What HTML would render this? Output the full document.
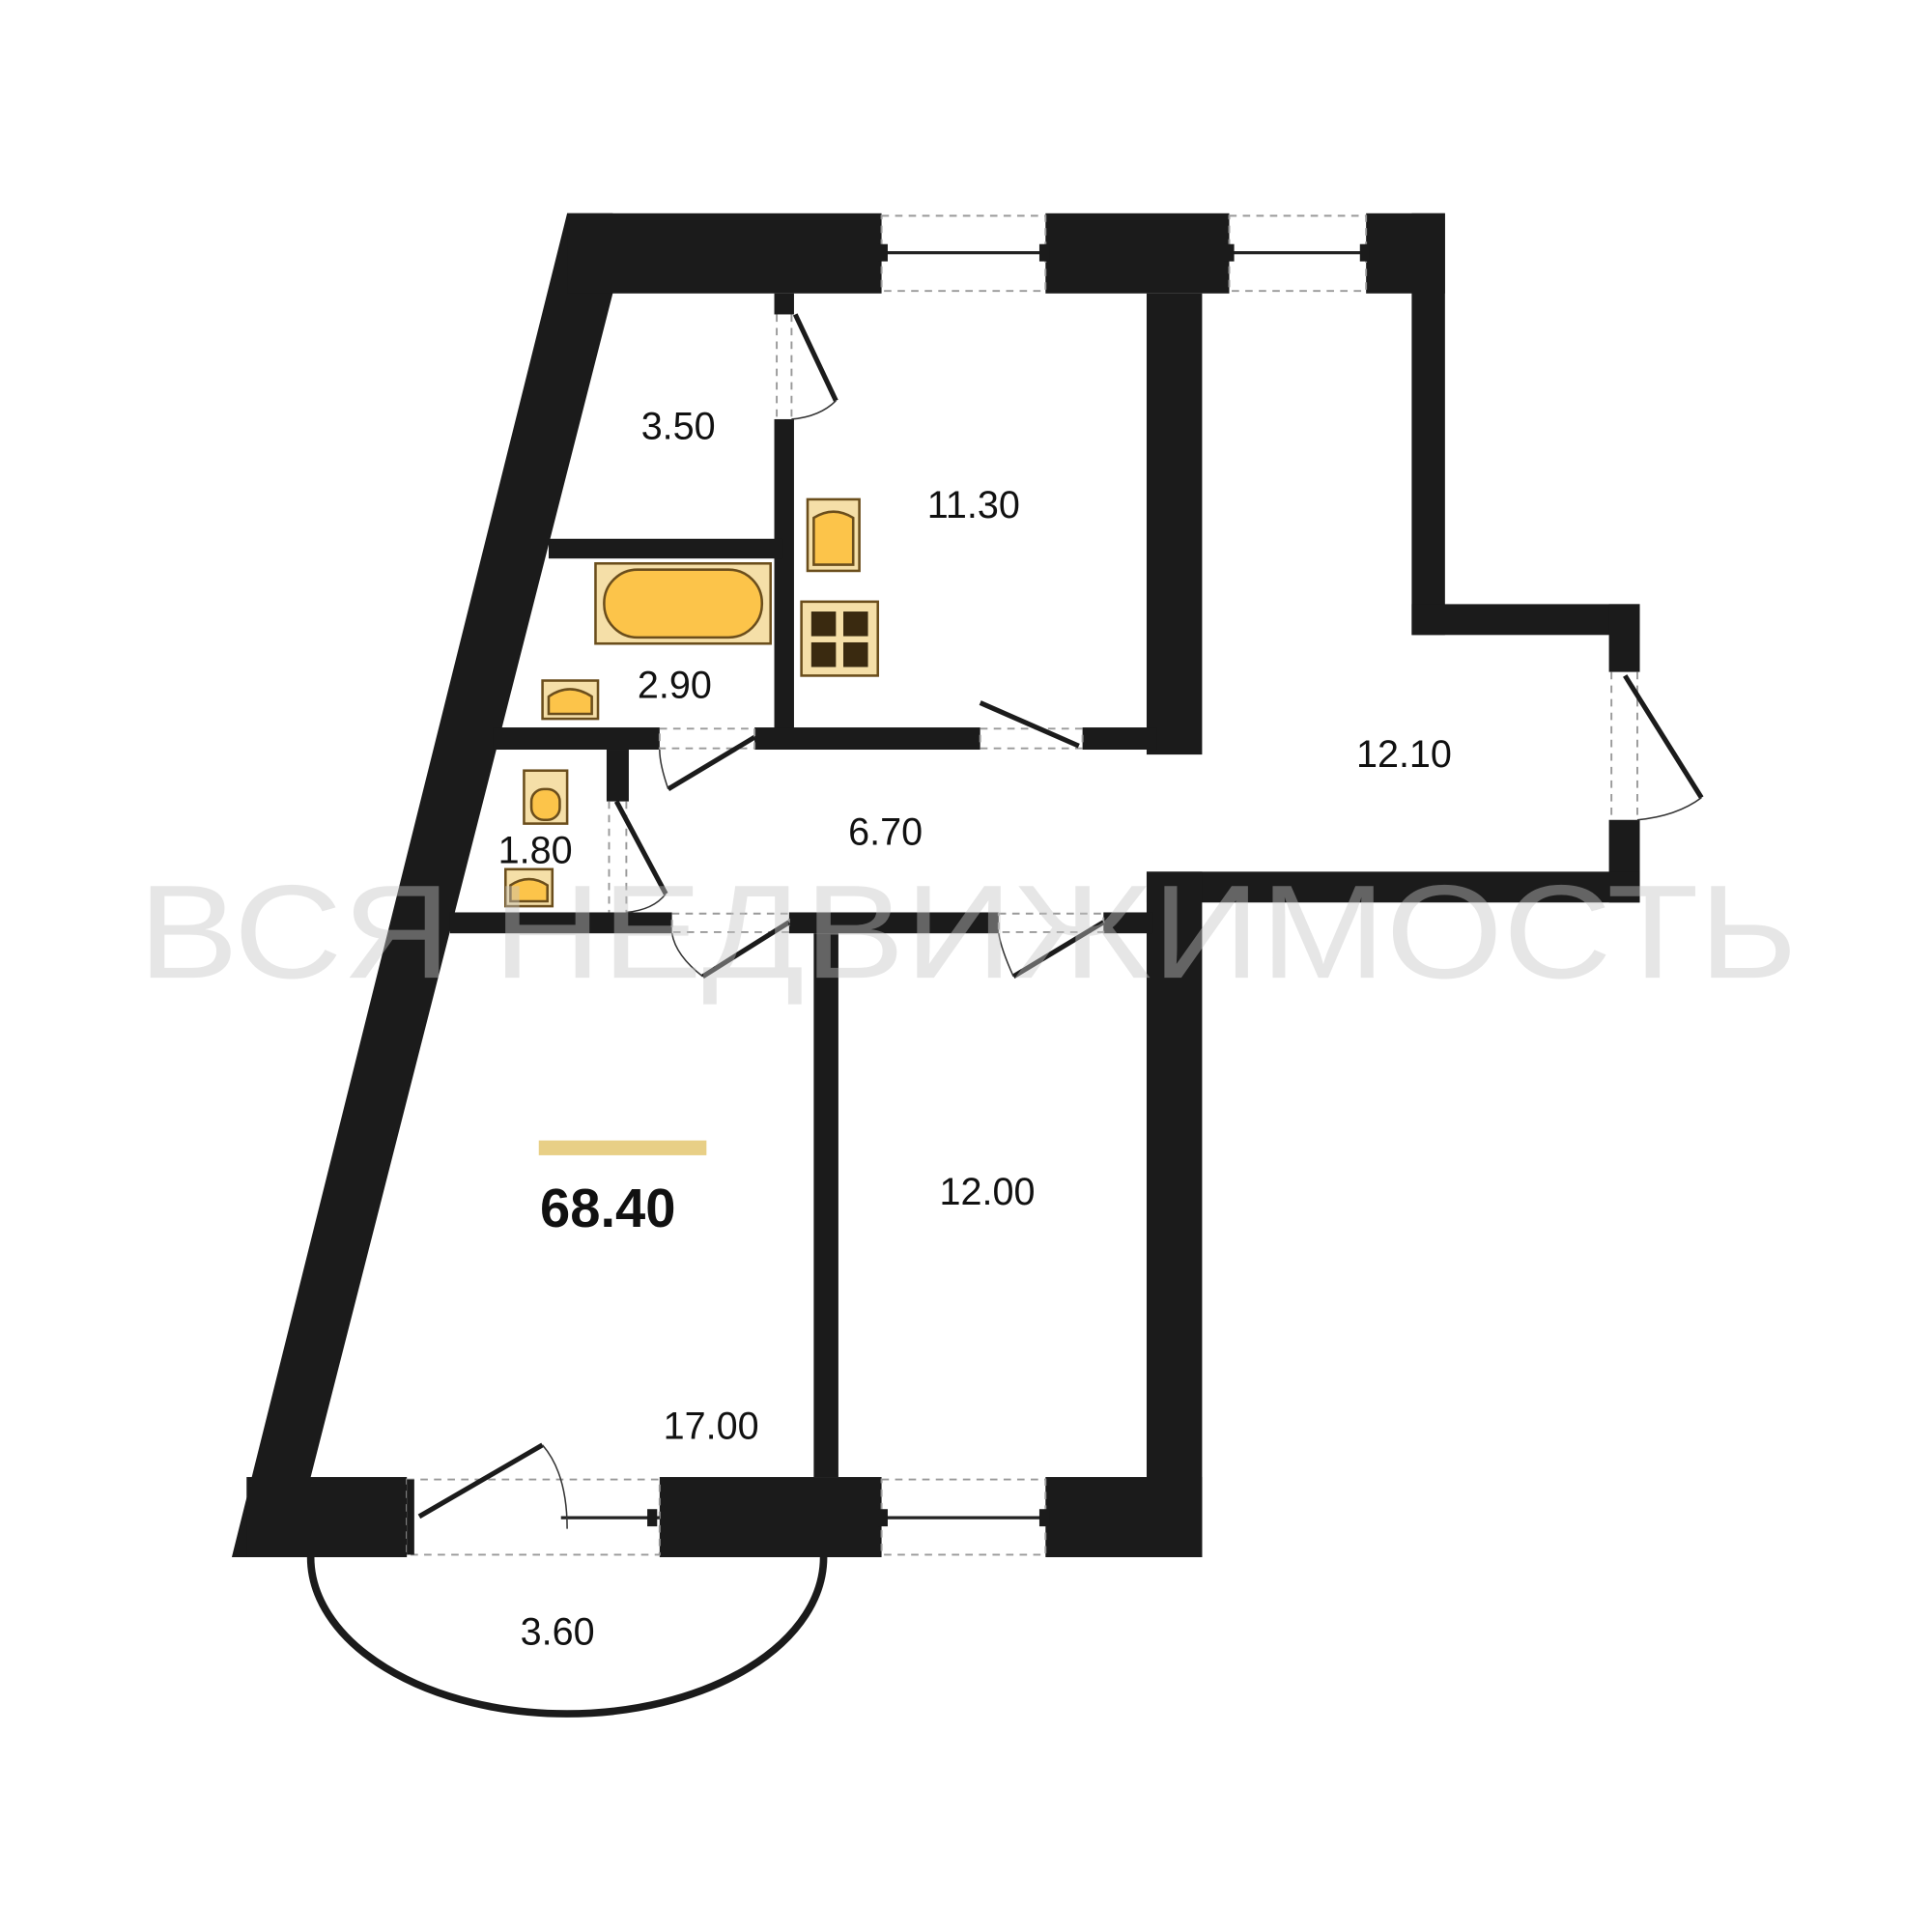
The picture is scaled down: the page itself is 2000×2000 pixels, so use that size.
<!DOCTYPE html>
<html><head><meta charset="utf-8"><style>
html,body{margin:0;padding:0;background:#fff;}
svg{display:block;}
text{font-family:"Liberation Sans",sans-serif;fill:#111;}
</style></head><body>
<svg width="2000" height="2000" viewBox="0 0 1567 1567" xmlns="http://www.w3.org/2000/svg">
<rect width="1567" height="1567" fill="#fff"/>
<g fill="#1b1b1b">
<polygon points="460,173 497,173 497,238 252,1198 252,1263 188,1263"/>
<rect x="460" y="173" width="255" height="65"/>
<rect x="848" y="173" width="149" height="65"/>
<rect x="1108" y="173" width="64" height="65"/>
<rect x="1145" y="173" width="27" height="342"/>
<rect x="1145" y="490" width="185" height="25"/>
<rect x="1305" y="490" width="25" height="55"/>
<rect x="1305" y="665" width="25" height="67"/>
<rect x="930" y="707" width="400" height="25"/>
<rect x="930" y="238" width="45" height="374"/>
<rect x="930" y="707" width="45" height="556"/>
<rect x="200" y="1198" width="130" height="65"/>
<rect x="535" y="1198" width="180" height="65"/>
<rect x="848" y="1198" width="127" height="65"/>
<rect x="628" y="238" width="16" height="17"/>
<rect x="628" y="340" width="16" height="252"/>
<rect x="445" y="437" width="190" height="16"/>
<rect x="400" y="590" width="135" height="18"/>
<rect x="612" y="590" width="183" height="18"/>
<rect x="878" y="590" width="60" height="18"/>
<rect x="492" y="608" width="18" height="42"/>
<rect x="365" y="740" width="180" height="17"/>
<rect x="640" y="740" width="170" height="17"/>
<rect x="895" y="740" width="40" height="17"/>
<rect x="660" y="757" width="20" height="441"/>
</g>
<g stroke="#999" stroke-width="1.5" fill="none" stroke-dasharray="6,5">
<rect x="715" y="175" width="133" height="61"/>
<rect x="997" y="175" width="111" height="61"/>
<rect x="715" y="1200" width="133" height="61"/>
<rect x="330" y="1200" width="205" height="61"/>
<line x1="1307" y1="545" x2="1307" y2="665"/><line x1="1328" y1="545" x2="1328" y2="665"/>
<rect x="535" y="591" width="77" height="16"/><rect x="795" y="591" width="83" height="16"/>
<rect x="545" y="741" width="95" height="15"/><rect x="810" y="741" width="85" height="15"/>
<line x1="494" y1="650" x2="494" y2="740"/><line x1="508" y1="650" x2="508" y2="740"/>
<line x1="630" y1="255" x2="630" y2="340"/><line x1="642" y1="255" x2="642" y2="340"/>
</g>
<g stroke="#222" stroke-width="2.5">
<line x1="715" y1="205" x2="848" y2="205"/><line x1="997" y1="205" x2="1108" y2="205"/>
<line x1="715" y1="1231" x2="848" y2="1231"/><line x1="455" y1="1231" x2="535" y2="1231"/>
</g>
<g fill="#1b1b1b"><rect x="712" y="198" width="8" height="14"/><rect x="843" y="198" width="8" height="14"/><rect x="993" y="198" width="8" height="14"/><rect x="1103" y="198" width="8" height="14"/>
<rect x="712" y="1224" width="8" height="14"/><rect x="843" y="1224" width="8" height="14"/><rect x="525" y="1224" width="8" height="14"/><rect x="330" y="1200" width="6" height="61"/></g>
<g stroke="#1b1b1b" stroke-width="4" fill="none">
<line x1="612" y1="598" x2="542" y2="640"/>
<line x1="795" y1="570" x2="875" y2="605"/>
<line x1="640" y1="748" x2="570" y2="792"/>
<line x1="895" y1="748" x2="822" y2="792"/>
<line x1="500" y1="650" x2="540" y2="725"/>
<line x1="645" y1="255" x2="678" y2="325"/>
<line x1="1318" y1="548" x2="1380" y2="647"/>
<line x1="340" y1="1230" x2="440" y2="1172"/>
</g>
<g stroke="#333" stroke-width="1.2" fill="none">
<path d="M542,640 Q535,620 535,608"/><path d="M822,792 Q812,770 810,757"/><path d="M570,792 Q548,775 545,757"/>
<path d="M540,725 Q530,738 508,740"/><path d="M1380,647 Q1360,662 1328,665"/><path d="M440,1172 Q460,1195 460,1240"/>
<path d="M678,325 Q665,338 642,340"/>
</g>
<path d="M252,1263 A208,127 0 0 0 668,1263" stroke="#1b1b1b" stroke-width="6" fill="none"/>
<g stroke="#6b4e1c" stroke-width="2">
<rect x="483" y="457" width="142" height="65" fill="#f5dfa8"/>
<rect x="490" y="462" width="128" height="55" rx="27" fill="#fcc44a"/>
<rect x="655" y="405" width="42" height="58" fill="#f5dfa8"/>
<path d="M660,420 q16,-10 32,0 v38 h-32z" fill="#fcc44a"/>
<rect x="650" y="488" width="62" height="60" fill="#f5dfa8"/>
<rect x="440" y="552" width="45" height="31" fill="#f5dfa8"/>
<path d="M445,565 q17,-12 35,0 v14 h-35z" fill="#fcc44a"/>
<rect x="425" y="625" width="35" height="43" fill="#f5dfa8"/>
<rect x="431" y="640" width="23" height="25" rx="10" fill="#fcc44a"/>
<rect x="410" y="705" width="38" height="30" fill="#f5dfa8"/>
<path d="M414,718 q15,-10 30,0 v13 h-30z" fill="#fcc44a"/>
</g>
<g fill="#3a2a10"><rect x="658" y="496" width="20" height="20"/><rect x="684" y="496" width="20" height="20"/><rect x="658" y="521" width="20" height="20"/><rect x="684" y="521" width="20" height="20"/></g>
<rect x="437" y="925" width="136" height="12" fill="#e8cf86"/>
<g font-size="31">
<text x="520" y="356">3.50</text>
<text x="752" y="420">11.30</text>
<text x="517" y="566">2.90</text>
<text x="1100" y="622">12.10</text>
<text x="688" y="685">6.70</text>
<text x="404" y="700">1.80</text>
<text x="762" y="977">12.00</text>
<text x="538" y="1167">17.00</text>
<text x="422" y="1334">3.60</text>
</g>
<text x="438" y="995" font-size="44" font-weight="bold">68.40</text>
<text x="112" y="793" font-size="108" fill="rgb(198,198,198)" fill-opacity="0.43" style="fill:rgb(198,198,198)" textLength="1346" lengthAdjust="spacingAndGlyphs">ВСЯ НЕДВИЖИМОСТЬ</text>
</svg>
</body></html>
